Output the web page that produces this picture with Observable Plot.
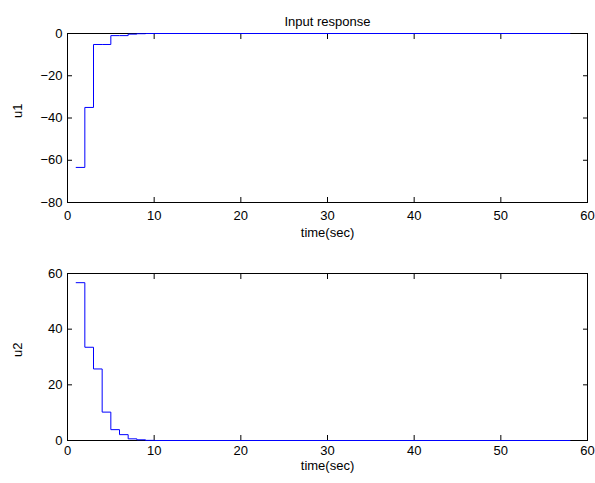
<!DOCTYPE html>
<html><head><meta charset="utf-8">
<script src="https://cdn.jsdelivr.net/npm/d3@7"></script>
<script src="https://cdn.jsdelivr.net/npm/@observablehq/plot@0.6"></script>
<style>
body{margin:0;background:#fff;}
#chart{width:595px;height:483px;background:#fff;}
#chart svg{display:block;}
</style>
</head><body><div id="chart"></div>
<script>
// ---- data ----
const time = [1, 2, 3, 4, 5, 6, 7, 8, 9, 10, 58];
const u1 = [-63.4, -35, -5.2, -5.2, -1, -1, -0.3, -0.1, 0, 0, 0];
const u2 = [56.7, 33.5, 25.7, 10.2, 3.9, 2.1, 0.6, 0.25, 0.05, 0, 0];
const xTicks = [0, 10, 20, 30, 40, 50, 60];
const u1Ticks = [-80, -60, -40, -20, 0];
const u2Ticks = [0, 20, 40, 60];
const titleText = "Input response";
const xLabelText = "time(sec)";
const yLabelTexts = ["u1", "u2"];

const FONT = "'Liberation Sans', Arial, Helvetica, sans-serif";
const FS = 13;

function panel({values, yDomain, yTicks, height, marginTop, marginBottom, yLabel, title, xLabelDy, xTickPad}) {
  const data = time.map((t, i) => ({t, v: values[i]}));
  const marks = [
    Plot.frame({stroke: "black", strokeWidth: 1}),
    Plot.axisX({anchor: "bottom", ticks: xTicks, tickSize: -5, tickPadding: xTickPad, label: null, fontSize: FS}),
    Plot.axisX({anchor: "top", ticks: xTicks, tickSize: -5, tickFormat: () => "", label: null}),
    Plot.axisY({anchor: "left", ticks: yTicks, tickSize: -5, tickPadding: 10, label: null, fontSize: FS}),
    Plot.axisY({anchor: "right", ticks: yTicks, tickSize: -5, tickFormat: () => "", label: null}),
    Plot.line(data, {x: "t", y: "v", curve: "step-after", stroke: "#0000ff", strokeWidth: 1}),
    Plot.text([xLabelText], {frameAnchor: "bottom", dy: xLabelDy, fontSize: FS}),
    Plot.text([yLabel], {frameAnchor: "left", rotate: -90, dx: -50, fontSize: FS})
  ];
  if (title) marks.push(Plot.text([title], {frameAnchor: "top", dy: -17, fontSize: FS}));
  return Plot.plot({
    width: 595,
    height,
    marginLeft: 67,
    marginRight: 8,
    marginTop,
    marginBottom,
    style: {fontFamily: FONT, fontSize: FS + "px", background: "#fff", color: "black"},
    x: {domain: [0, 60]},
    y: {domain: yDomain},
    marks
  });
}

const chart = document.getElementById("chart");
chart.append(panel({values: u1, yDomain: [-80, 0], yTicks: u1Ticks, height: 250, marginTop: 33, marginBottom: 48, yLabel: yLabelTexts[0], title: titleText, xLabelDy: 34, xTickPad: 13}));
chart.append(panel({values: u2, yDomain: [0, 60], yTicks: u2Ticks, height: 233, marginTop: 23, marginBottom: 43, yLabel: yLabelTexts[1], title: null, xLabelDy: 29, xTickPad: 10}));
</script>
</body></html>
